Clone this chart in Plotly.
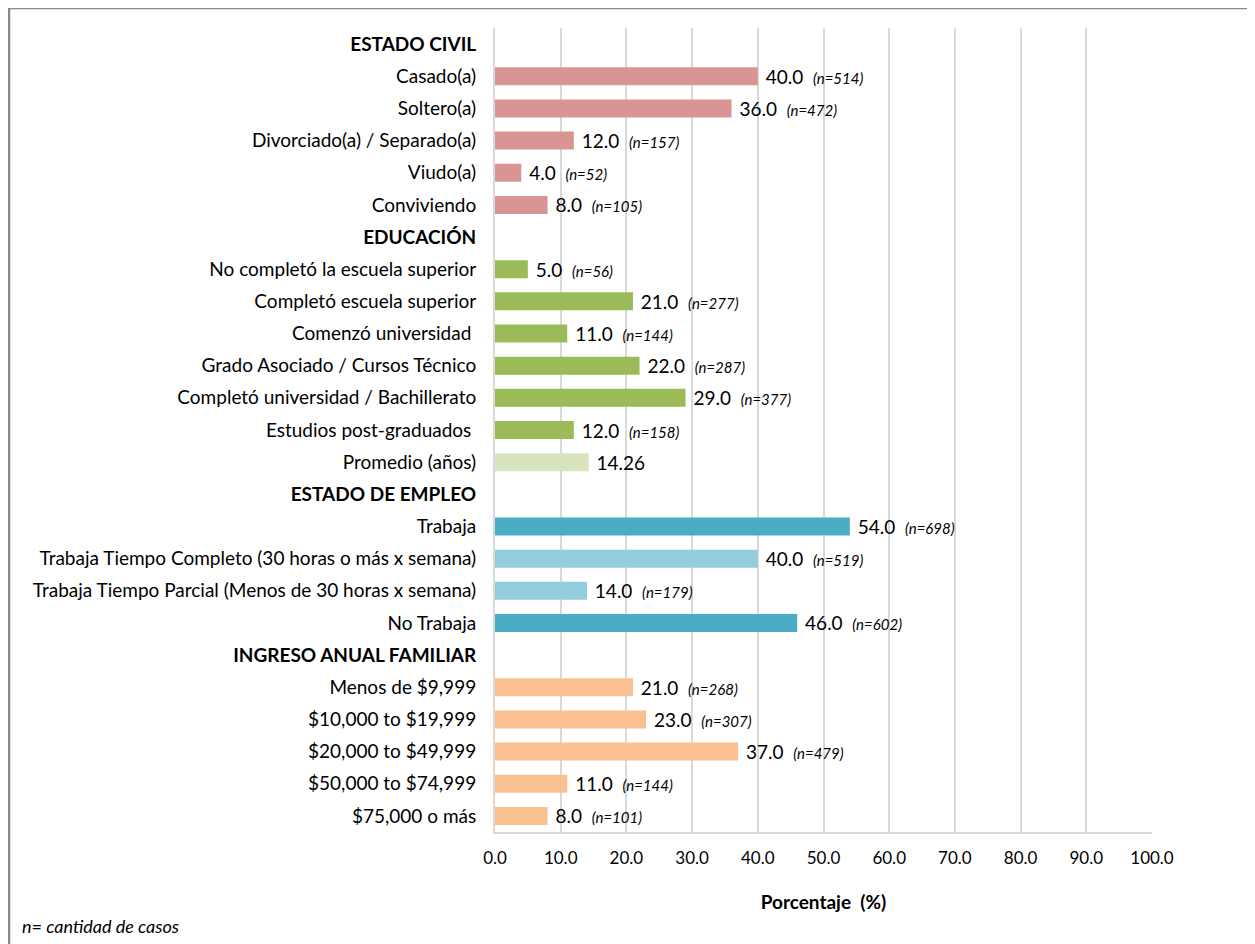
import plotly.graph_objects as go

categories = [
    "ESTADO CIVIL", "Casado(a)", "Soltero(a)", "Divorciado(a) / Separado(a)", "Viudo(a)", "Conviviendo",
    "EDUCACIÓN", "No completó la escuela superior", "Completó escuela superior", "Comenzó universidad ",
    "Grado Asociado / Cursos Técnico", "Completó universidad / Bachillerato", "Estudios post-graduados ",
    "Promedio (años)",
    "ESTADO DE EMPLEO", "Trabaja", "Trabaja Tiempo Completo (30 horas o más x semana)",
    "Trabaja Tiempo Parcial (Menos de 30 horas x semana)", "No Trabaja",
    "INGRESO ANUAL FAMILIAR", "Menos de $9,999", "$10,000 to $19,999", "$20,000 to $49,999",
    "$50,000 to $74,999", "$75,000 o más",
]
headers = ["ESTADO CIVIL", "EDUCACIÓN", "ESTADO DE EMPLEO", "INGRESO ANUAL FAMILIAR"]
values = [
    None, 40.0, 36.0, 12.0, 4.0, 8.0,
    None, 5.0, 21.0, 11.0, 22.0, 29.0, 12.0, 14.26,
    None, 54.0, 40.0, 14.0, 46.0,
    None, 21.0, 23.0, 37.0, 11.0, 8.0,
]
counts = [
    None, 514, 472, 157, 52, 105,
    None, 56, 277, 144, 287, 377, 158, None,
    None, 698, 519, 179, 602,
    None, 268, 307, 479, 144, 101,
]
colors = [
    "white", "#D99594", "#D99594", "#D99594", "#D99594", "#D99594",
    "white", "#9BBB59", "#9BBB59", "#9BBB59", "#9BBB59", "#9BBB59", "#9BBB59", "#D7E4BD",
    "white", "#4BACC6", "#93CDDD", "#93CDDD", "#4BACC6",
    "white", "#FAC090", "#FAC090", "#FAC090", "#FAC090", "#FAC090",
]
x_ticks = [0, 10, 20, 30, 40, 50, 60, 70, 80, 90, 100]

FONT = "Lato, sans-serif"

texts = []
for cat, v, n in zip(categories, values, counts):
    if v is None:
        texts.append("")
    elif n is None:
        texts.append(" %.2f" % v)
    else:
        texts.append(" %.1f  <span style='font-size:15px'><i>(n=%d)</i></span>" % (v, n))

ticktext = ["<b>%s</b>" % c if c in headers else c for c in categories]

fig = go.Figure()
fig.add_trace(go.Bar(
    x=values, y=categories, orientation="h",
    marker=dict(color=colors, line=dict(width=0)),
    width=0.56,
    text=texts, textposition="outside", cliponaxis=False,
    constraintext="none",
    textfont=dict(family=FONT, size=19, color="#000000"),
    hoverinfo="skip",
))

# the page body adds an 8px offset, so margins are shifted accordingly
fig.update_layout(
    width=1255, height=944,
    margin=dict(l=487, r=111, t=20, b=120),
    paper_bgcolor="white", plot_bgcolor="white",
    showlegend=False,
    font=dict(family=FONT, size=19, color="#000000"),
)
fig.update_yaxes(
    type="category", categoryorder="array", categoryarray=categories,
    autorange="reversed",
    tickmode="array", tickvals=categories, ticktext=ticktext,
    showgrid=False, showline=True, linecolor="#D9D9D9", linewidth=2,
    ticks="", ticklabelstandoff=13,
    tickfont=dict(family=FONT, size=19, color="#000000"),
)
fig.update_xaxes(
    range=[0, 100], tickmode="array", tickvals=x_ticks,
    tickformat=".1f",
    showgrid=True, gridcolor="#D9D9D9", gridwidth=1.5,
    showline=True, linecolor="#D9D9D9", linewidth=2,
    zeroline=False, ticks="", ticklabelstandoff=10,
    tickfont=dict(family=FONT, size=17, color="#000000"),
    title=dict(text="<b>Porcentaje  (%)</b>", font=dict(family=FONT, size=19, color="#000000"), standoff=28),
)

W = 657.0
H = 804.0
fig.add_shape(type="rect", xref="paper", yref="paper",
              x0=(1 - 487) / W, x1=(1280 - 487) / W,
              y0=-(960 - 824) / H, y1=(824 - 0) / H,
              line=dict(color="#888888", width=2.5), fillcolor="rgba(0,0,0,0)", layer="below")

fig.add_annotation(xref="paper", yref="paper",
                   x=(12 - 487) / W, y=-(918 - 824) / H,
                   xanchor="left", yanchor="middle", showarrow=False,
                   text="<i>n= cantidad de casos</i>",
                   font=dict(family=FONT, size=18, color="#000000"))

fig.write_html("out.html")
